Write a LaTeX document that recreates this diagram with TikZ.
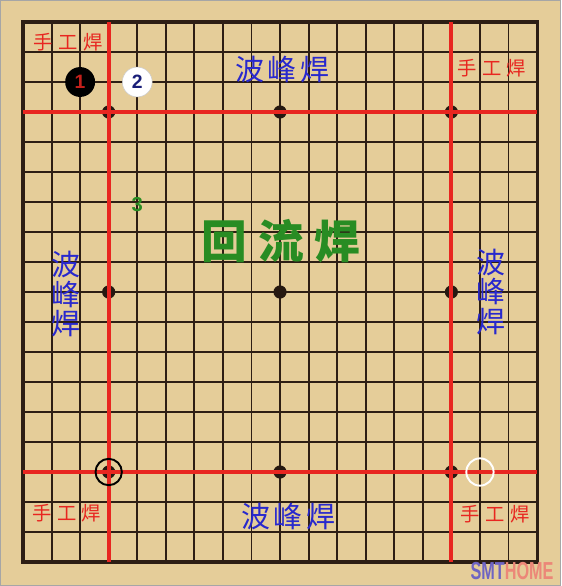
\documentclass[tikz,border=0pt]{standalone}
\usepackage{fontspec}
\setmainfont{Liberation Sans}
\newfontfamily\cjk{Noto Sans CJK SC}

\definecolor{wood}{RGB}{229,205,153}
\definecolor{gridbrown}{RGB}{45,30,20}
\definecolor{weldred}{RGB}{232,38,32}
\definecolor{waveblue}{RGB}{40,40,205}
\definecolor{reflowgreen}{RGB}{40,140,35}
\definecolor{numblue}{RGB}{25,30,120}
\definecolor{smtblue}{RGB}{110,100,195}
\definecolor{homepink}{RGB}{236,135,120}

\tikzset{
  gridline/.style={line width=1.1pt, draw=gridbrown},
  boardedge/.style={line width=1.8pt, draw=gridbrown},
  redline/.style={line width=2.3pt, draw=weldred},
  hoshi/.style={circle, fill=gridbrown!85!black, inner sep=0pt, minimum size=7.5pt},
  blackstone/.style={circle, fill=black, text=weldred!85!black, inner sep=0pt,
    minimum size=17pt, font=\bfseries\fontsize{11}{11}\selectfont},
  whitestone/.style={circle, fill=white, draw=gray!40, line width=0.3pt, text=numblue,
    inner sep=0pt, minimum size=17pt, font=\bfseries\fontsize{11}{11}\selectfont},
  blackring/.style={circle, draw=black, line width=1.1pt, inner sep=0pt, minimum size=15pt},
  whitering/.style={circle, draw=white, line width=1.1pt, inner sep=0pt, minimum size=15.5pt},
  handlabel/.style={text=weldred, font=\cjk\fontsize{11}{11}\selectfont, inner sep=0pt},
  wavelabel/.style={text=waveblue, font=\cjk\fontsize{16.5}{17}\selectfont, inner sep=0pt},
  wavestack/.style={wavelabel, align=center},
  reflowlabel/.style={text=reflowgreen, font=\cjk\bfseries\fontsize{26}{26}\selectfont, inner sep=0pt}
}

\begin{document}
\begin{tikzpicture}

  % background and frame
  \useasboundingbox (0,0) rectangle (11.22,-11.72);
  \fill[wood] (0,0) rectangle (11.22,-11.72);
  \draw[gray!70, line width=0.6pt] (0.01,-0.01) rectangle (11.21,-11.71);

  \begin{scope}[shift={(0.46cm,-0.44cm)}, x=0.5712cm, y=-0.6cm]

    % board lines
    \foreach \i in {0,...,18} {
      \draw[gridline] (\i,0) -- (\i,18);
      \draw[gridline] (0,\i) -- (18,\i);
    }
    \draw[boardedge] (0,0) rectangle (18,18);

    % star points
    \foreach \c in {3,9,15}
      \foreach \r in {3,9,15}
        \node[hoshi] (h-\c-\r) at (\c,\r) {};

    % red zone lines
    \draw[redline] (3,0) -- (3,18);
    \draw[redline] (15,0) -- (15,18);
    \draw[redline] (0,3) -- (18,3);
    \draw[redline] (0,15) -- (18,15);

    % stones and marks
    \node[blackstone] (s1) at (2,2) {1};
    \node[whitestone] (s2) at (4,2) {2};
    \node[text=reflowgreen, font=\bfseries\fontsize{11.5}{11.5}\selectfont, inner sep=0pt] (s3) at (4,6.1) {3};
    \node[blackring] (m1) at (3,15) {};
    \node[whitering] (m2) at (16,15) {};

    % zone labels
    \node[handlabel] (hTL) at (1.58,0.67) {手\hspace{3pt}工\hspace{3pt}焊};
    \node[handlabel] (hTR) at (16.42,1.53) {手\hspace{3pt}工\hspace{3pt}焊};
    \node[handlabel] (hBL) at (1.54,16.37) {手\hspace{3pt}工\hspace{3pt}焊};
    \node[handlabel] (hBR) at (16.53,16.4) {手\hspace{3pt}工\hspace{3pt}焊};

    \node[wavelabel] (wT) at (9.07,1.6) {波\hspace{2pt}峰\hspace{2pt}焊};
    \node[wavelabel] (wB) at (9.28,16.5) {波\hspace{2pt}峰\hspace{2pt}焊};
    \node[wavestack] (wL) at (1.5,9.07) {波\\峰\\焊};
    \node[wavestack] (wR) at (16.39,9.0) {波\\峰\\焊};

    \node[reflowlabel] (rf) at (9.03,7.3) {回\hspace{6pt}流\hspace{6pt}焊};

  \end{scope}

  % watermark
  \node[inner sep=0pt, xscale=0.66, transform shape,
        font=\bfseries\fontsize{14}{14}\selectfont] (wm) at (10.24,-11.42)
        {\textcolor{smtblue}{SMT}\textcolor{homepink}{HOME}};

\end{tikzpicture}
\end{document}
